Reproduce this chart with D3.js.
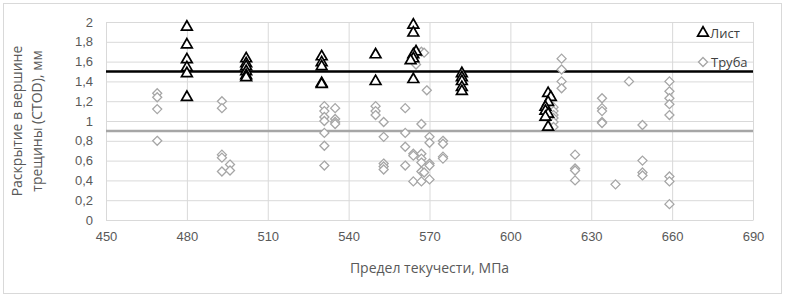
<!DOCTYPE html>
<html>
<head>
<meta charset="utf-8">
<script src="https://cdn.jsdelivr.net/npm/d3@7"></script>
<style>
  body { margin: 0; background: #fff; }
  svg { display: block; font-family: "Open Sans", "DejaVu Sans", sans-serif; }
</style>
</head>
<body>
<svg id="chart" width="785" height="297"></svg>
<script>
// Лист: [предел текучести, CTOD]
const listData = [
  [480, 1.95], [480, 1.77], [480, 1.62], [480, 1.54], [480, 1.48], [480, 1.24],
  [502, 1.63], [502, 1.58], [502, 1.55], [502, 1.50], [502, 1.46], [502, 1.44],
  [530, 1.65], [530, 1.59], [530, 1.55], [530, 1.38], [530, 1.37],
  [550, 1.67], [550, 1.40],
  [564, 1.97], [564, 1.89], [565, 1.70], [564, 1.67], [564, 1.63], [563, 1.61], [564, 1.42],
  [582, 1.48], [582, 1.44], [582, 1.40], [582, 1.34], [582, 1.30],
  [614, 1.28], [615, 1.24], [614, 1.19], [613, 1.14], [613, 1.10], [614, 1.07], [613, 1.04], [614, 0.94]
];
// Труба
const pipeData = [
  [469, 1.28], [469, 1.24], [469, 1.12], [469, 0.80],
  [493, 1.20], [493, 1.13], [493, 0.66], [493, 0.63], [493, 0.49], [496, 0.56], [496, 0.50],
  [531, 1.15], [531, 1.10], [531, 1.04], [531, 1.00], [531, 0.88], [531, 0.75], [531, 0.55],
  [535, 1.13], [535, 1.02], [535, 0.99], [535, 0.97],
  [550, 1.15], [550, 1.10], [550, 1.06], [553, 0.99], [553, 0.84], [553, 0.57], [553, 0.54], [553, 0.51],
  [561, 1.13], [561, 0.88], [561, 0.74], [561, 0.55],
  [565, 1.57], [567, 1.70], [568, 1.69], [569, 1.31], [567, 0.97],
  [570, 0.84], [570, 0.78], [564, 0.67], [564, 0.65], [567, 0.67], [567, 0.62], [567, 0.58],
  [570, 0.57], [570, 0.55], [567, 0.49], [568, 0.48], [564, 0.39], [567, 0.39], [570, 0.41],
  [575, 0.80], [575, 0.77], [575, 0.64], [575, 0.62],
  [616, 1.14], [616, 1.10], [616, 1.06], [616, 1.03], [616, 0.99], [616, 0.94],
  [619, 1.63], [619, 1.52], [619, 1.40], [619, 1.33],
  [624, 0.66], [624, 0.52], [624, 0.50], [624, 0.40],
  [634, 1.23], [634, 1.13], [634, 1.10], [634, 0.99], [634, 0.98],
  [639, 0.36], [644, 1.40],
  [649, 0.96], [649, 0.60], [649, 0.48], [649, 0.45],
  [659, 1.40], [659, 1.30], [659, 1.23], [659, 1.17], [659, 1.06], [659, 0.44], [659, 0.39], [659, 0.16]
];
const xTicks = [450, 480, 510, 540, 570, 600, 630, 660, 690];
const yTicks = [0, 0.2, 0.4, 0.6, 0.8, 1, 1.2, 1.4, 1.6, 1.8, 2];
const refLines = [
  { value: 1.5, color: "#000000" },
  { value: 0.9, color: "#a6a6a6" }
];
const legendItems = ["Лист", "Труба"];

const svg = d3.select("#chart");
const margin = { top: 22, right: 32, bottom: 77, left: 106 };
const width = 785, height = 297;
const innerW = width - margin.left - margin.right;
const innerH = height - margin.top - margin.bottom;

// outer chart frame
svg.append("rect")
  .attr("x", 3.5).attr("y", 3.5)
  .attr("width", 778).attr("height", 290)
  .attr("fill", "#fff")
  .attr("stroke", "#d9d9d9");

const x = d3.scaleLinear().domain([450, 690]).range([0, innerW]);
const y = d3.scaleLinear().domain([0, 2]).range([innerH, 0]);
const fmt = v => d3.format("~g")(v).replace(".", ",");

const g = svg.append("g").attr("transform", `translate(${margin.left},${margin.top})`);

// gridlines
g.append("g")
  .call(d3.axisLeft(y).tickValues(yTicks).tickSize(-innerW).tickFormat(""))
  .call(a => a.select(".domain").remove())
  .selectAll("line").attr("stroke", "#d9d9d9");
g.append("g")
  .attr("transform", `translate(0,${innerH})`)
  .call(d3.axisBottom(x).tickValues(xTicks).tickSize(-innerH).tickFormat(""))
  .call(a => a.select(".domain").remove())
  .selectAll("line").attr("stroke", "#d9d9d9");

// tick labels
const yAxis = g.append("g")
  .call(d3.axisLeft(y).tickValues(yTicks).tickSize(0).tickPadding(13).tickFormat(fmt));
yAxis.select(".domain").attr("stroke", "#d9d9d9");
yAxis.selectAll("text").attr("fill", "#595959").style("font-size", "13px");

const xAxis = g.append("g")
  .attr("transform", `translate(0,${innerH})`)
  .call(d3.axisBottom(x).tickValues(xTicks).tickSize(0).tickPadding(12).tickFormat(fmt));
xAxis.select(".domain").attr("stroke", "#d9d9d9");
xAxis.selectAll("text").attr("fill", "#595959").style("font-size", "13px");

// reference lines
g.selectAll(".ref")
  .data(refLines)
  .join("line")
  .attr("x1", 0).attr("x2", innerW)
  .attr("y1", d => y(d.value)).attr("y2", d => y(d.value))
  .attr("stroke", d => d.color)
  .attr("stroke-width", 2.5);

const triangle = d3.symbol().type(d3.symbolTriangle).size(50);
const diamond = s => `M0,${-s}L${s},0L0,${s}L${-s},0Z`;

// Труба points
g.append("g").selectAll("path")
  .data(pipeData)
  .join("path")
  .attr("transform", d => `translate(${x(d[0])},${y(d[1])})`)
  .attr("d", diamond(4.5))
  .attr("fill", "#fff")
  .attr("stroke", "#a6a6a6")
  .attr("stroke-width", 1.3);

// Лист points
g.append("g").selectAll("path")
  .data(listData)
  .join("path")
  .attr("transform", d => `translate(${x(d[0])},${y(d[1])})`)
  .attr("d", triangle())
  .attr("fill", "#fff")
  .attr("stroke", "#000")
  .attr("stroke-width", 1.7);

// legend
const legend = svg.append("g").attr("transform", "translate(703,33)");
legend.append("path").attr("d", triangle())
  .attr("fill", "#fff").attr("stroke", "#000").attr("stroke-width", 1.7);
legend.append("text").attr("x", 7).attr("dy", "0.35em")
  .style("font-size", "13px").attr("fill", "#404040").text(legendItems[0]);
legend.append("path").attr("transform", "translate(0,29)").attr("d", diamond(4.5))
  .attr("fill", "#fff").attr("stroke", "#a6a6a6").attr("stroke-width", 1.3);
legend.append("text").attr("x", 8).attr("y", 29).attr("dy", "0.35em")
  .style("font-size", "13px").attr("fill", "#404040").text(legendItems[1]);

// axis titles
svg.append("text")
  .attr("x", margin.left + innerW / 2).attr("y", 273)
  .attr("text-anchor", "middle")
  .attr("fill", "#595959")
  .style("font-size", "14px")
  .text("Предел текучести, МПа");

const yTitle = svg.append("text")
  .attr("transform", `translate(0,${margin.top + innerH / 2}) rotate(-90)`)
  .attr("text-anchor", "middle")
  .attr("fill", "#595959")
  .style("font-size", "14px");
yTitle.append("tspan").attr("x", 0).attr("y", 22).text("Раскрытие в вершине");
yTitle.append("tspan").attr("x", 0).attr("y", 42).text("трещины (CTOD), мм");
</script>
</body>
</html>
